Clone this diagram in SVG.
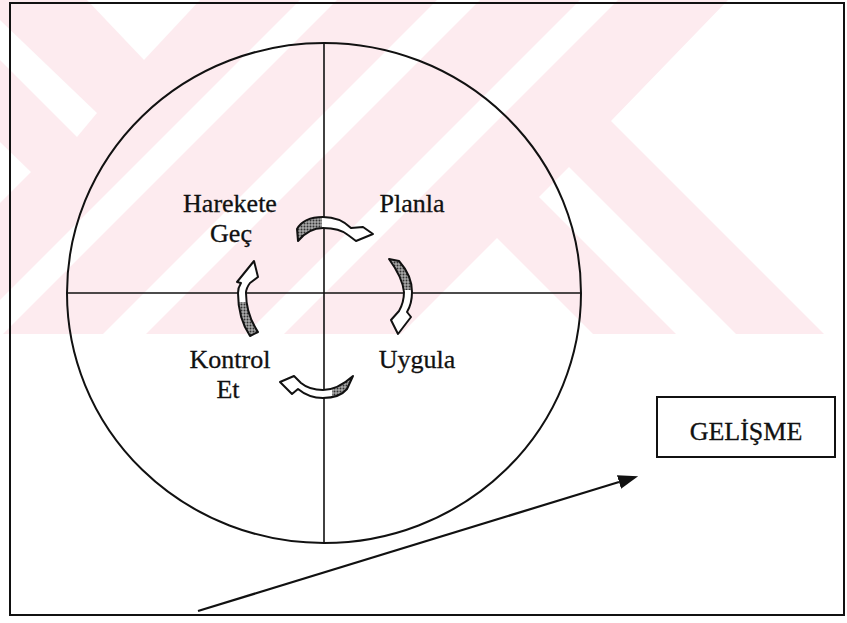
<svg xmlns="http://www.w3.org/2000/svg" xmlns:xlink="http://www.w3.org/1999/xlink" width="847" height="623" viewBox="0 0 847 623">
  <style>
    .lbl { font-family: "Liberation Serif", "Times New Roman", serif; font-size: 26px; fill: #111; stroke: #111; stroke-width: 0.3; text-anchor: middle; }
    .ln { stroke: #111; fill: none; }
    .wm { fill: #fdebef; }
    .wh { fill: #ffffff; }
    .ca { stroke: #111; stroke-width: 2; stroke-linejoin: round; }
  </style>
  <defs>
    <pattern id="dots" width="3" height="3" patternUnits="userSpaceOnUse">
      <rect width="3" height="3" fill="#a8a8a8"/>
      <circle cx="1.5" cy="1.5" r="1" fill="#333"/>
    </pattern>
    <marker id="head" viewBox="0 0 20 14" refX="0" refY="7" markerWidth="20" markerHeight="14" markerUnits="userSpaceOnUse" orient="auto">
      <path d="M0,0 L20,7 L0,14 Z" fill="#111"/>
    </marker>
    <path id="a1" d="M297,229 C302,220 313,217 323,217 C335,217 345,222 351,228 L363,227 L373,234 L356,241 L348,235 C342,230 333,228 323,228 C312,228 303,235 298,241 Z"/>
    <path id="a2" d="M389,259 L399,261 C407,270 412,281 412,292 C412,301 410,307 407,312 L411,317 L398,334 L391,320 L399,311 C403,304 404,298 404,292 C403,282 397,270 389,259 Z"/>
    <path id="a3" d="M353,376 L347,389 C342,395 333,398 323,398 C313,398 304,394 298,389 L292,394 L280,382 L294,376 L301,383 C307,388 315,390 323,390 C333,390 343,385 353,376 Z"/>
    <path id="a4" d="M250,336 C242,324 238,308 238,293 C238,289 239,286 241,283 L237,282 L254,261 L258,277 L250,283 C247,287 246,290 246,293 C246,306 250,320 258,332 Z"/>
    <clipPath id="c1"><rect x="290" y="210" width="32" height="40"/></clipPath>
    <clipPath id="c2"><rect x="380" y="250" width="40" height="40"/></clipPath>
    <clipPath id="c3"><rect x="332" y="370" width="30" height="35"/></clipPath>
    <clipPath id="c4"><rect x="230" y="302" width="35" height="40"/></clipPath>
  </defs>

  <!-- background watermark -->
  <g id="watermark">
    <rect width="847" height="623" fill="#ffffff"/>
    <polygon class="wm" points="0,0 728,0 611,121 824,334 0,334"/>
    <polygon class="wh" points="0,20 97,113 77,137 0,60"/>
    <polygon class="wh" points="87,0 200,0 144,60"/>
    <polygon class="wh" points="0,142 31,172 0,203"/>
    <polygon class="wh" points="300,0 337,0 3,334 0,334 0,300"/>
    <polygon class="wh" points="437,0 480,0 146,334 103,334"/>
    <polygon class="wh" points="580,0 618,0 284,334 246,334"/>
    <polygon class="wh" points="497,238 593,334 401,334"/>
    <polygon class="wh" points="569,167 736,334 676,334 539,197"/>
  </g>

  <g id="frame">
    <rect x="10" y="3" width="834" height="612" class="ln" stroke-width="2"/>
  </g>

  <g id="cycle">
    <ellipse cx="324" cy="293" rx="257" ry="250" class="ln" stroke-width="2"/>
    <line x1="324" y1="43" x2="324" y2="543" class="ln" stroke-width="1.6"/>
    <line x1="67" y1="293" x2="581" y2="293" class="ln" stroke-width="1.6"/>
  </g>

  <g id="node-harekete-gec">
    <text class="lbl" x="230" y="212">Harekete</text>
    <text class="lbl" x="231" y="242">Geç</text>
  </g>
  <g id="node-planla">
    <text class="lbl" x="412" y="212">Planla</text>
  </g>
  <g id="node-uygula">
    <text class="lbl" x="417" y="368">Uygula</text>
  </g>
  <g id="node-kontrol-et">
    <text class="lbl" x="230" y="368">Kontrol</text>
    <text class="lbl" x="228" y="398">Et</text>
  </g>
  <g id="node-gelisme">
    <rect x="657" y="397" width="178" height="60" fill="#ffffff" stroke="#111" stroke-width="2"/>
    <text class="lbl" x="746" y="440">GELİŞME</text>
  </g>

  <g id="connectors">
    <g id="arrow-planla">
      <use xlink:href="#a1" fill="#ffffff"/>
      <use xlink:href="#a1" fill="url(#dots)" clip-path="url(#c1)"/>
      <use xlink:href="#a1" fill="none" class="ca"/>
    </g>
    <g id="arrow-uygula">
      <use xlink:href="#a2" fill="#ffffff"/>
      <use xlink:href="#a2" fill="url(#dots)" clip-path="url(#c2)"/>
      <use xlink:href="#a2" fill="none" class="ca"/>
    </g>
    <g id="arrow-kontrol">
      <use xlink:href="#a3" fill="#ffffff"/>
      <use xlink:href="#a3" fill="url(#dots)" clip-path="url(#c3)"/>
      <use xlink:href="#a3" fill="none" class="ca"/>
    </g>
    <g id="arrow-harekete">
      <use xlink:href="#a4" fill="#ffffff"/>
      <use xlink:href="#a4" fill="url(#dots)" clip-path="url(#c4)"/>
      <use xlink:href="#a4" fill="none" class="ca"/>
    </g>
    <line id="arrow-gelisme" x1="198" y1="611" x2="619" y2="482" stroke="#111" stroke-width="2.2" marker-end="url(#head)"/>
  </g>
</svg>
